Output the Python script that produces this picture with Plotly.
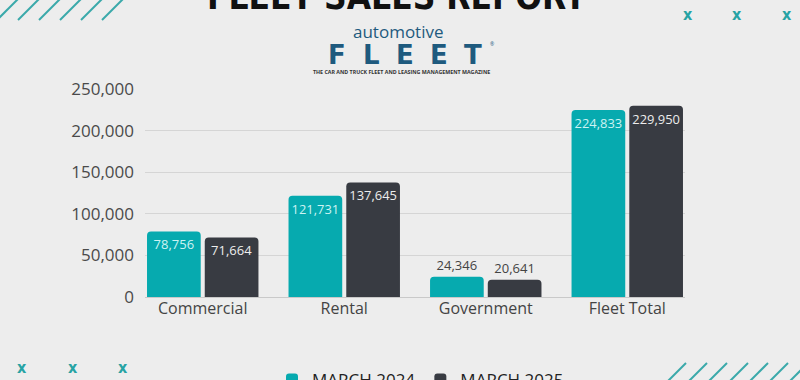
import plotly.graph_objects as go

# ---- data ----
categories = ["Commercial", "Rental", "Government", "Fleet Total"]
march_2024 = [78756, 121731, 24346, 224833]
march_2025 = [71664, 137645, 20641, 229950]
series_names = ["MARCH 2024", "MARCH 2025"]
y_ticks = [0, 50000, 100000, 150000, 200000, 250000]
label_positions = ["inside", "inside", "outside", "inside"]

# ---- styling ----
W, H = 800, 380
ML, MR, MT, MB = 145, 115, 89, 83
PW, PH = W - ML - MR, H - MT - MB
TEAL = "#06AAAF"
DARK = "#383B42"
BG = "#EDEDED"
FONT = "Open Sans"


def px(x):
    return (x - ML) / PW


def py(y):
    return (H - MB - y) / PH


fig = go.Figure()
for vals, name, color, inside_col in [
    (march_2024, series_names[0], TEAL, "#CDF3F3"),
    (march_2025, series_names[1], DARK, "#EDEDED"),
]:
    fig.add_trace(go.Bar(
        x=categories, y=vals, name=name,
        marker=dict(color=color, line=dict(width=0)),
        texttemplate="%{y:,}", textposition=label_positions,
        textangle=0, constraintext="none",
        insidetextanchor="end", cliponaxis=False,
        insidetextfont=dict(color=inside_col, size=13, family=FONT),
        outsidetextfont=dict(color="#444444", size=13, family=FONT),
    ))

shapes = []
# top-left slashes
for xb in [-3, 18, 39, 60, 81, 102]:
    shapes.append(dict(type="line", xref="paper", yref="paper",
                       x0=px(xb), y0=py(20), x1=px(xb + 24), y1=py(-4),
                       line=dict(color="#3AA9AA", width=2)))
# bottom-right slashes
for xt in [686, 707, 727, 748, 768, 788, 808]:
    shapes.append(dict(type="line", xref="paper", yref="paper",
                       x0=px(xt - 22), y0=py(385), x1=px(xt), y1=py(363),
                       line=dict(color="#3AA9AA", width=2)))

annotations = []
# title (cut off at top)
annotations.append(dict(text="FLEET SALES REPORT", xref="paper", yref="paper",
                        x=px(397), y=py(19), xanchor="center", yanchor="bottom",
                        showarrow=False,
                        font=dict(family="DejaVu Sans Condensed, sans-serif",
                                  size=35, color="#111111", weight=700)))
# x marks
for (mx, my) in [(688, 15), (737, 15), (787, 15), (22, 367), (73, 367), (123, 367)]:
    annotations.append(dict(text="x", xref="paper", yref="paper",
                            x=px(mx), y=py(my), xanchor="center", yanchor="middle",
                            showarrow=False,
                            font=dict(family="DejaVu Sans Condensed, sans-serif",
                                      size=16, color="#27A3A4", weight=700)))
# logo
annotations.append(dict(text="automotive", xref="paper", yref="paper",
                        x=px(398), y=py(31), xanchor="center", yanchor="middle",
                        showarrow=False,
                        font=dict(family=FONT, size=17, color="#1E5A7E")))
for ch, cx in zip("FLEET", [337, 371, 405, 439, 473]):
    annotations.append(dict(text=ch, xref="paper", yref="paper",
                            x=px(cx), y=py(55), xanchor="center", yanchor="middle",
                            showarrow=False,
                            font=dict(family="DejaVu Sans", size=26, color="#1E5A7E", weight=700)))
annotations.append(dict(text="®", xref="paper", yref="paper",
                        x=px(492), y=py(44), xanchor="center", yanchor="middle",
                        showarrow=False, font=dict(family=FONT, size=5, color="#1E5A7E")))
annotations.append(dict(text="THE CAR AND TRUCK FLEET AND LEASING MANAGEMENT MAGAZINE",
                        xref="paper", yref="paper",
                        x=px(401), y=py(72), xanchor="center", yanchor="middle",
                        showarrow=False,
                        font=dict(family=FONT, size=5.3, color="#333333", weight=700)))

fig.update_layout(
    width=W, height=H,
    margin=dict(l=ML, r=MR, t=MT, b=MB, autoexpand=False),
    paper_bgcolor=BG, plot_bgcolor=BG,
    barmode="group", bargap=0.184, bargroupgap=0.07, barcornerradius=4,
    font=dict(family=FONT, color="#444444"),
    showlegend=True,
    legend=dict(orientation="h", xref="paper", yref="paper",
                x=px(272), y=py(362), xanchor="left", yanchor="top",
                font=dict(family=FONT, size=17, color="#222222"),
                bgcolor="rgba(0,0,0,0)", traceorder="normal"),
    xaxis=dict(type="category", range=[-0.408, 3.408], showgrid=False,
               showline=False, zeroline=False, ticks="",
               tickfont=dict(family=FONT, size=16, color="#444444")),
    yaxis=dict(range=[0, 250000], tickvals=y_ticks, tickformat=",",
               showgrid=True, gridcolor="#D5D5D5", gridwidth=1,
               zeroline=True, zerolinecolor="#C9C9C9", zerolinewidth=1,
               showline=False, ticks="", ticklabelstandoff=10,
               tickfont=dict(family=FONT, size=17, color="#4A4A4A")),
    shapes=shapes, annotations=annotations,
)

fig.write_html("out.html", config={"displayModeBar": False},
               post_script="document.body.style.margin='0px';document.body.style.padding='0px';")
